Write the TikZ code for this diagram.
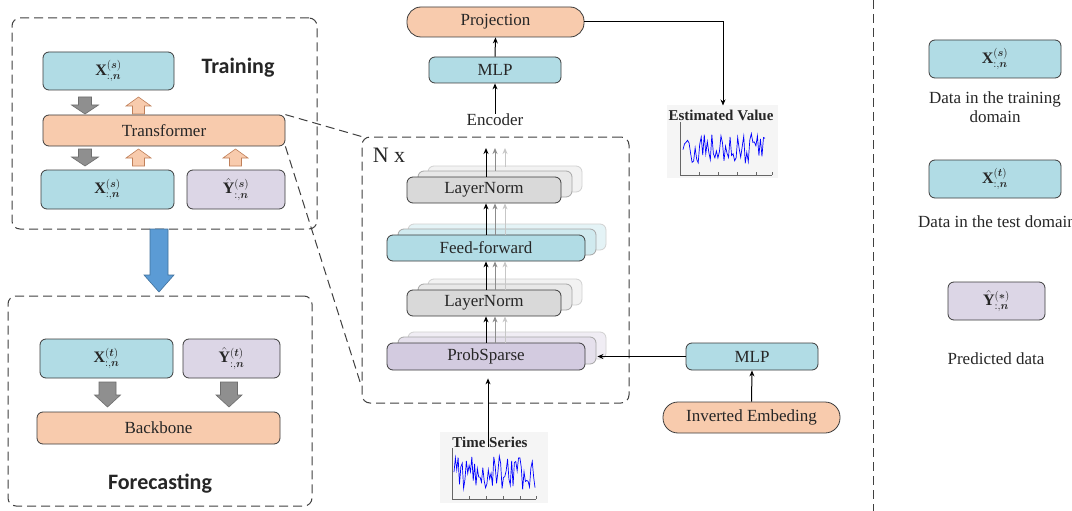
\documentclass[tikz,border=0pt]{standalone}
\usepackage{amsmath}
\usepackage{bm}
\usepackage{fontspec}
\setmainfont{Liberation Serif}
\newfontfamily\carl{Carlito}
\usetikzlibrary{arrows.meta,calc}
\definecolor{bxblue}{HTML}{B1DCE5}
\definecolor{peach}{HTML}{F8CBAD}
\definecolor{lav}{HTML}{DCD6E6}
\definecolor{lavd}{HTML}{D3CBE0}
\definecolor{lgray}{HTML}{D9D9D9}
\definecolor{bord}{HTML}{3C3C3C}
\definecolor{txt}{HTML}{262626}
\definecolor{dashc}{HTML}{404040}
\definecolor{garr}{HTML}{8F8F8F}
\definecolor{garrd}{HTML}{6E6E6E}
\definecolor{oarrd}{HTML}{C0805A}
\definecolor{barr}{HTML}{5B9BD5}
\definecolor{barrd}{HTML}{41719C}
\newcommand\blkdown[7]{%
 \draw[#7] (#1-#3,#2) -- (#1+#3,#2) -- (#1+#3,#2+#5) -- (#1+#4,#2+#5) -- (#1,#2+#6) -- (#1-#4,#2+#5) -- (#1-#3,#2+#5) -- cycle;}
\newcommand\blkup[7]{%
 \draw[#7] (#1,#2) -- (#1+#4,#2+#6-#5) -- (#1+#3,#2+#6-#5) -- (#1+#3,#2+#6) -- (#1-#3,#2+#6) -- (#1-#3,#2+#6-#5) -- (#1-#4,#2+#6-#5) -- cycle;}
\newcommand\xlab[1]{{\fontsize{16}{18}\selectfont$\mathbf{X}^{(\bm{#1})}_{:,\bm{n}}$}}
\newcommand\ylab[1]{{\fontsize{16}{18}\selectfont$\hat{\mathbf{Y}}^{(\bm{#1})}_{:,\bm{n}}$}}
\newcommand\bxfont{\rmfamily\fontsize{17}{19}\selectfont}
\tikzset{
 bx/.style={draw=bord, line width=0.8pt, rounded corners=6pt, inner sep=0pt, align=center, text=txt, font=\bxfont},
 dbox/.style={draw=dashc, line width=1pt, dash pattern=on 9pt off 5pt, rounded corners=8pt, inner sep=0pt},
 lbl/.style={text=txt, font=\bxfont, align=center, inner sep=0pt},
 arr/.style={-{Stealth[length=6pt,width=5pt]}, line width=1pt, black},
 arrg/.style={-{Stealth[length=6pt,width=5pt]}, line width=1pt, black!45},
 arrl/.style={-{Stealth[length=6pt,width=5pt]}, line width=1pt, black!22},
 sh1/.style={draw=black!35, line width=0.8pt, rounded corners=6pt},
 sh2/.style={draw=black!18, line width=0.8pt, rounded corners=6pt},
 gdn/.style={fill=garr, draw=garrd, line width=0.6pt},
 oup/.style={fill=peach, draw=oarrd, line width=0.6pt},
 ttl/.style={font=\rmfamily\bfseries\fontsize{15}{16}\selectfont, text=txt, inner sep=0pt},
}
\begin{document}
\begin{tikzpicture}[x=1pt,y=-1pt]
\useasboundingbox (0,0) rectangle (1072,511);
\clip (0,0) rectangle (1072,511);
\fill[white] (0,0) rectangle (1072,511);

% ---------------- Training ----------------
\node[dbox, minimum width=305pt, minimum height=211pt] (trbox) at (164.5,123.5) {};
\node[bx, fill=bxblue, minimum width=131pt, minimum height=38pt] (xs1) at (108.5,71) {\xlab{s}};
\node[text=txt, inner sep=0pt, font=\carl\bfseries\fontsize{22}{24}\selectfont] (trtxt) at (238,68) {Training};
\blkdown{85}{97}{6.5}{13.5}{8}{17}{gdn}
\blkup{138.5}{97}{6}{12.5}{8}{17}{oup}
\node[bx, fill=peach, minimum width=242pt, minimum height=31pt] (trans) at (164,130.5) {Transformer};
\blkdown{85}{149}{6.5}{13.5}{8}{17}{gdn}
\blkup{138.5}{149}{6}{12.5}{8}{17}{oup}
\blkup{235.5}{149}{6}{12.5}{8}{17}{oup}
\node[bx, fill=bxblue, minimum width=133pt, minimum height=39pt] (xs2) at (107.5,189.5) {\xlab{s}};
\node[bx, fill=lav, minimum width=98pt, minimum height=39pt] (ys) at (236,189.5) {\ylab{s}};

% blue arrow
\draw[fill=barr, draw=barrd, line width=0.6pt] (150,229) -- (168,229) -- (168,275) -- (174,275) -- (159,292) -- (144,275) -- (150,275) -- cycle;

% ---------------- Forecasting ----------------
\node[dbox, minimum width=304pt, minimum height=210pt] (fcbox) at (160,401) {};
\node[bx, fill=bxblue, minimum width=133pt, minimum height=39pt] (xt) at (106.5,358.5) {\xlab{t}};
\node[bx, fill=lav, minimum width=97pt, minimum height=39pt] (yt) at (231.5,358.5) {\ylab{t}};
\blkdown{107.5}{382}{8.5}{13}{13}{25}{gdn}
\blkdown{229}{382}{8.5}{13}{13}{25}{gdn}
\node[bx, fill=peach, minimum width=243pt, minimum height=32pt] (bb) at (158.5,428) {Backbone};
\node[text=txt, inner sep=0pt, font=\carl\bfseries\fontsize{22}{24}\selectfont] (fctxt) at (160,484) {Forecasting};

% ---------------- Encoder block ----------------
\node[dbox, minimum width=267pt, minimum height=266pt] (nx) at (495.5,270) {};
\node[text=txt, inner sep=0pt, font=\rmfamily\fontsize{22}{24}\selectfont] (nxl) at (389,155) {N x};

\draw[dashc, line width=1pt, dash pattern=on 9pt off 5pt] (trans.north east) -- (nx.north west);
\draw[dashc, line width=1pt, dash pattern=on 9pt off 5pt] (trans.south east) -- ($(nx.south west)+(0,-17)$);

% shadows
\foreach \cx/\cy/\w/\h/\c in {484/190/154/26/lgray, 486/248/198/26/bxblue, 484/303/154/26/lgray, 486/356.5/198/27/lavd}{
  \draw[sh2, fill=\c!35] (\cx-\w/2+21,\cy-\h/2-11) rectangle (\cx+\w/2+21,\cy+\h/2-11);
  \draw[sh1, fill=\c!60] (\cx-\w/2+11,\cy-\h/2-6) rectangle (\cx+\w/2+11,\cy+\h/2-6);
}
\node[bx, fill=lgray, minimum width=154pt, minimum height=26pt] (ln1) at (484,190) {LayerNorm};
\node[bx, fill=bxblue, minimum width=198pt, minimum height=26pt] (ff) at (486,248) {Feed-forward};
\node[bx, fill=lgray, minimum width=154pt, minimum height=26pt] (ln2) at (484,303) {LayerNorm};
\node[bx, fill=lavd, minimum width=198pt, minimum height=27pt] (ps) at (486,356.5) {ProbSparse};

\coordinate (top) at (486,148);
\draw[arr] (ln1.north -| top) -- (top);
\draw[arrg] ($(ln1.north -| top)+(9,-6)$) -- ($(top)+(9,0)$);
\draw[arrl] ($(ln1.north -| top)+(19,-10)$) -- ($(top)+(19,0)$);
\foreach \lo/\up in {ff/ln1, ln2/ff, ps/ln2}{
  \draw[arr] (\lo.north -| top) -- (\up.south -| top);
  \draw[arrg] ($(\lo.north -| top)+(9,0)$) -- ($(\up.south -| top)+(9,0)$);
  \draw[arrl] ($(\lo.north -| top)+(19,0)$) -- ($(\up.south -| top)+(19,0)$);
}

% ---------------- Top: projection ----------------
\node[bx, fill=peach, rounded corners=14pt, minimum width=177pt, minimum height=30pt] (proj) at (495.5,22) {Projection};
\node[bx, fill=bxblue, minimum width=132pt, minimum height=26pt] (mlp2) at (495,70) {MLP};
\node[lbl] (enc) at (495,120) {Encoder};
\draw[arr] (enc.north) -- (mlp2.south);
\draw[arr] (mlp2.north) -- (proj.south);

% Estimated value picture
\fill[black!4] (667,105) rectangle (778,178);
\node[ttl] (est) at (721,115) {Estimated Value};
\draw[black!60, line width=0.6pt] (680,122) -- (680,175) -- (772,175);
\foreach \t in {680,699,718,737,756,772} \draw[black!60, line width=0.4pt] (\t,175) -- (\t,172);
\pgfmathsetseed{11}
\draw[blue, line width=0.7pt] plot[domain=683:765, samples=55] (\x,{149+17*rand});
\draw[arr] (proj.east) -| ($(est.north)+(2,-4)$);

% Time series picture
\fill[black!4] (440,432) rectangle (548,503);
\draw[black!60, line width=0.6pt] (452,448) -- (452,499) -- (536,499);
\foreach \t in {452,469,486,503,520,536} \draw[black!60, line width=0.4pt] (\t,499) -- (\t,496);
\pgfmathsetseed{5}
\draw[blue, line width=0.7pt] plot[domain=454:535, samples=60] (\x,{473+17*rand});
\node[ttl] (tst) at (490,442) {Time Series};
\coordinate (tsin) at (488,447);
\draw[arr] (tsin) -- ($(ps.south -| tsin)+(0,8)$);

% MLP + Inverted embedding
\node[bx, fill=bxblue, minimum width=132pt, minimum height=27pt] (mlp3) at (752,356.5) {MLP};
\node[bx, fill=peach, rounded corners=15pt, minimum width=177pt, minimum height=31pt] (inv) at (751.5,417.5) {Inverted Embeding};
\draw[arr] (inv.north) -- (mlp3.south);
\draw[arr] (mlp3.west) -- ($(ps.east)+(12,0)$);

% ---------------- Legend ----------------
\draw[dashc, line width=1pt, dash pattern=on 9pt off 5pt] (873,0) -- (873,511);
\node[bx, fill=bxblue, minimum width=132pt, minimum height=38pt] (lx1) at (995,59) {\xlab{s}};
\node[lbl] (lx1t) at (995,107) {Data in the training\\domain};
\node[bx, fill=bxblue, minimum width=132pt, minimum height=38pt] (lx2) at (995,179) {\xlab{t}};
\node[lbl, anchor=west] (lx2t) at (918,222) {Data in the test domain};
\node[bx, fill=lav, minimum width=97pt, minimum height=38pt] (ly) at (996.5,301) {\ylab{*}};
\node[lbl] (lyt) at (996,359) {Predicted data};
\end{tikzpicture}
\end{document}
